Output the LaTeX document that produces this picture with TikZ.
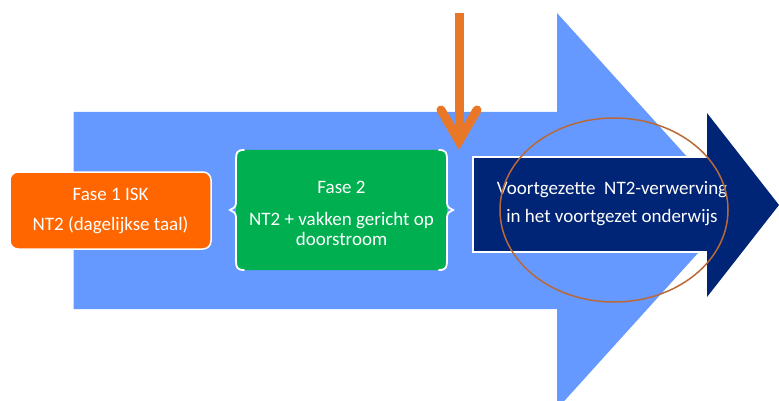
\documentclass[tikz,border=0pt]{standalone}
\usepackage{fontspec}
\setmainfont{Carlito}
\definecolor{lightblue}{RGB}{102,153,255}
\definecolor{orangebox}{RGB}{255,102,0}
\definecolor{greenbox}{RGB}{0,176,80}
\definecolor{navy}{RGB}{0,36,118}
\definecolor{orangearrow}{RGB}{232,120,40}
\definecolor{brownring}{RGB}{185,105,55}
\tikzset{
  txt/.style={text=white, align=center, font=\fontsize{19}{22}\selectfont, inner sep=0pt},
  phasebox/.style={draw=white, line width=1.5pt, rounded corners=8pt, inner sep=0pt},
  bracestroke/.style={draw=white, line width=1.8pt, line cap=round},
  pointer/.style={draw=orangearrow, line width=9pt}
}
\begin{document}
\begin{tikzpicture}[x=1pt,y=-1pt]
\useasboundingbox (0,0) rectangle (779,401);
% big light blue arrow
\fill[lightblue] (73.5,112) -- (557,112) -- (557,13) -- (736,211) -- (557,409) -- (557,309) -- (73.5,309) -- cycle;
% phase 1
\node[phasebox, fill=orangebox, minimum width=201pt, minimum height=77pt, txt] (f1) at (110.5,210.5)
  {Fase 1 ISK\\[8pt]NT2 (dagelijkse taal)};
% phase 2 (green with braces)
\node[fill=greenbox, rounded corners=8pt, minimum width=211pt, minimum height=120pt, inner sep=0pt] (f2) at (341.5,210) {};
\node[txt, font=\fontsize{19}{20}\selectfont] (f2t) at (341.5,213) {Fase 2\\[12pt]NT2 + vakken gericht op\\doorstroom};
\draw[bracestroke] (244,150) .. controls (237,150) and (236,153) .. (236,159) -- (236,203)
  .. controls (236,207) and (233,209) .. (230,210) .. controls (233,211) and (236,213) .. (236,217)
  -- (236,261) .. controls (236,267) and (237,270) .. (244,270);
\draw[bracestroke] (439,150) .. controls (446,150) and (447,153) .. (447,159) -- (447,203)
  .. controls (447,207) and (450,209) .. (453,210) .. controls (450,211) and (447,213) .. (447,217)
  -- (447,261) .. controls (447,267) and (446,270) .. (439,270);
% dark blue arrow
\node[fill=navy, draw=white, line width=1.8pt, minimum width=236pt, minimum height=95pt, inner sep=0pt] (f3) at (591,204.5) {};
\fill[navy] (707,113) -- (779,205) -- (707,297) -- cycle;
\node[txt] (f3t) at (612,204) {Voortgezette\ \ NT2-verwerving\\[6pt]in het voortgezet onderwijs};
% orange pointer arrow
\coordinate (ptop) at (459,13);
\coordinate (ptip) at (459,141);
\coordinate (pl) at (441,110);
\coordinate (pr) at (477,110);
\draw[pointer] (ptop) -- (ptip);
\draw[pointer, line cap=round, line join=miter] (pl) -- (ptip) -- (pr);
% brown ellipse
\draw[brownring, line width=1.5pt] (614,210) ellipse [x radius=114, y radius=92];
\end{tikzpicture}
\end{document}
